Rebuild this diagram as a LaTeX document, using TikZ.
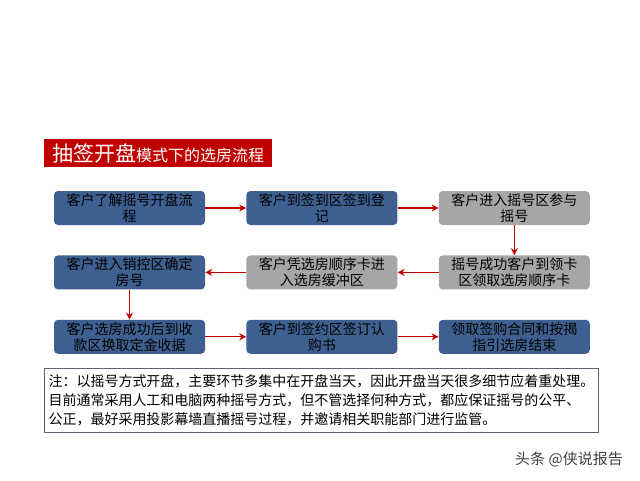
\documentclass[tikz,border=0pt]{standalone}
\usepackage{fontspec}
\newfontfamily\cjk{Noto Sans CJK SC}
\usepackage{xcolor}
\usetikzlibrary{arrows.meta, positioning}
\definecolor{titlered}{RGB}{192,0,0}
\definecolor{stepblue}{RGB}{62,96,145}
\definecolor{stepgray}{RGB}{166,166,166}
\definecolor{noteframe}{RGB}{90,100,112}

\begin{document}
\begin{tikzpicture}[
    x=1pt, y=-1pt,
    node distance=30pt and 41pt,
    stepbox/.style={rectangle, draw=none, rounded corners=4pt, minimum width=151pt, minimum height=34pt, inner sep=0pt, align=center, font=\cjk\fontsize{14}{16}\selectfont},
    bluebox/.style={stepbox, fill=stepblue},
    graybox/.style={stepbox, fill=stepgray},
    arrow/.style={-{Stealth[length=7pt, width=7pt]}, line width=1.3pt, titlered}
]
\useasboundingbox (0,0) rectangle (640,480);

% Title
\node[fill=titlered, text=white, anchor=north west, minimum width=228pt, minimum height=28pt, inner sep=0pt, font=\cjk] (title) at (44,139)
    {{\fontsize{21}{21}\selectfont 抽签开盘}{\fontsize{16}{16}\selectfont 模式下的选房流程}};

% Row 1
\node[bluebox] (s1) at (129.5,208) {客户了解摇号开盘流\\程};
\node[bluebox, right=of s1] (s2) {客户到签到区签到登\\记};
\node[graybox, right=of s2] (s3) {客户进入摇号区参与\\摇号};

% Row 2
\node[graybox, below=of s3] (s4) {摇号成功客户到领卡\\区领取选房顺序卡};
\node[graybox, below=of s2] (s5) {客户凭选房顺序卡进\\入选房缓冲区};
\node[bluebox, below=of s1] (s6) {客户进入销控区确定\\房号};

% Row 3
\node[bluebox, below=of s6] (s7) {客户选房成功后到收\\款区换取定金收据};
\node[bluebox, below=of s5] (s8) {客户到签约区签订认\\购书};
\node[bluebox, below=of s4] (s9) {领取签购合同和按揭\\指引选房结束};

% Arrows
\draw[arrow] (s1) -- (s2);
\draw[arrow] (s2) -- (s3);
\draw[arrow] (s3) -- (s4);
\draw[arrow] (s4) -- (s5);
\draw[arrow] (s5) -- (s6);
\draw[arrow] (s6) -- (s7);
\draw[arrow] (s7) -- (s8);
\draw[arrow] (s8) -- (s9);

% Note
\node[draw=noteframe, line width=1pt, fill=white, anchor=north west, minimum width=554pt, minimum height=64pt, inner xsep=4pt, inner ysep=0pt, align=left, font=\cjk\fontsize{14}{19}\selectfont] (note) at (44,368) {%
注：以摇号方式开盘，主要环节多集中在开盘当天，因此开盘当天很多细节应着重处理。\\
目前通常采用人工和电脑两种摇号方式，但不管选择何种方式，都应保证摇号的公平、\\
公正，最好采用投影幕墙直播摇号过程，并邀请相关职能部门进行监管。};

% Watermark
\node[text=black!75, font=\cjk\fontsize{15}{15}\selectfont] (mark) at (569,459) {头条 @侠说报告};

\end{tikzpicture}
\end{document}
